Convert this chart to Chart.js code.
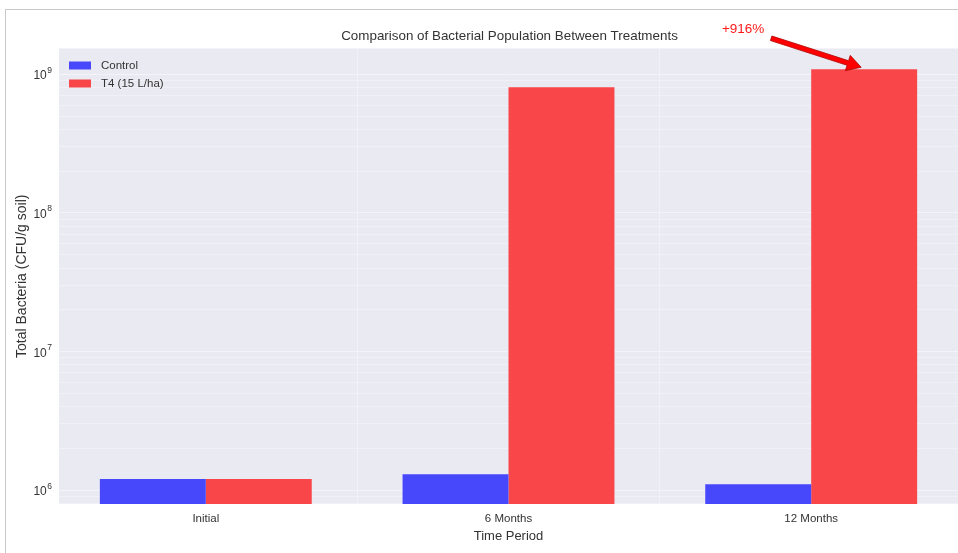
<!DOCTYPE html>
<html>
<head>
<meta charset="utf-8">
<script src="https://cdn.jsdelivr.net/npm/chart.js@4.4.1/dist/chart.umd.min.js"></script>
<style>
  html, body { margin: 0; padding: 0; background: #fff; overflow: hidden; }
  #wrap { position: relative; width: 958px; height: 553px; }
  #frame { position: absolute; left: 5px; top: 9px; width: 960px; height: 560px;
           border-top: 1px solid #c8c8c8; border-left: 1px solid #c8c8c8; pointer-events: none; }
  canvas { position: absolute; left: 0; top: 0; }
</style>
</head>
<body>
<div id="wrap">
  <canvas id="c" width="958" height="553"></canvas>
  <div id="frame"></div>
</div>
<script>
// ---- data ----
const categories = ['Initial', '6 Months', '12 Months'];
const controlValues = [1.2e6, 1.3e6, 1.1e6];
const t4Values = [1.2e6, 8.1e8, 1.09e9];
const seriesLabels = ['Control', 'T4 (15 L/ha)'];
const yTickExponents = [6, 7, 8, 9];
const annotationText = '+916%';
const titleText = 'Comparison of Bacterial Population Between Treatments';
const xAxisTitle = 'Time Period';
const yAxisTitle = 'Total Bacteria (CFU/g soil)';

const FONT = "'Liberation Sans', Arial, sans-serif";
const TEXT = '#333333';

const bgPlugin = {
  id: 'bg',
  beforeDraw(chart) {
    const {ctx, chartArea: a} = chart;
    ctx.save();
    ctx.fillStyle = '#EAEAF2';
    ctx.fillRect(a.left, a.top, a.right - a.left, a.bottom - a.top);
    ctx.restore();
  }
};

const textPlugin = {
  id: 'texts',
  afterDraw(chart) {
    const {ctx, chartArea: a} = chart;
    ctx.save();
    // title centered over plot area (full axes width)
    ctx.fillStyle = TEXT;
    ctx.font = '13.4px ' + FONT;
    ctx.textAlign = 'center';
    ctx.textBaseline = 'middle';
    ctx.fillText(titleText, 509.5, 36);
    // y tick labels with superscript exponents
    const ys = chart.scales.y;
    ctx.textBaseline = 'alphabetic';
    ctx.textAlign = 'left';
    yTickExponents.forEach(e => {
      const py = ys.getPixelForValue(Math.pow(10, e));
      ctx.font = '8.5px ' + FONT;
      const ew = ctx.measureText(String(e)).width;
      ctx.font = '12px ' + FONT;
      const bw = ctx.measureText('10').width;
      const right = a.left - 7;
      const x0 = right - ew - bw - 0.5;
      ctx.fillText('10', x0, py + 5);
      ctx.font = '8.5px ' + FONT;
      ctx.fillText(String(e), x0 + bw + 0.5, py - 1.5);
    });
    // legend inside
    ctx.font = '11.5px ' + FONT;
    ctx.textBaseline = 'middle';
    chart.data.datasets.forEach((ds, i) => {
      const y = a.top + 17 + i * 18;
      ctx.fillStyle = ds.backgroundColor;
      ctx.fillRect(a.left + 10, y - 4, 22, 8);
      ctx.fillStyle = TEXT;
      ctx.fillText(ds.label, a.left + 42, y);
    });
    ctx.restore();
  }
};

const annotationPlugin = {
  id: 'arrowNote',
  afterDraw(chart) {
    const {ctx} = chart;
    const meta = chart.getDatasetMeta(1);
    const bar = meta.data[2];
    const tipX = bar.x - 3, tipY = bar.y - 2;
    const startX = tipX - 90, startY = tipY - 29;
    ctx.save();
    ctx.fillStyle = '#FF1A1A';
    ctx.font = '13.5px ' + FONT;
    ctx.textAlign = 'center';
    ctx.textBaseline = 'middle';
    ctx.fillText(annotationText, startX - 28, startY - 9);
    const ang = Math.atan2(tipY - startY, tipX - startX);
    const headLen = 14, headW = 8, shaft = 2.4;
    const bx = tipX - headLen * Math.cos(ang), by = tipY - headLen * Math.sin(ang);
    const nx = -Math.sin(ang), ny = Math.cos(ang);
    ctx.fillStyle = '#FF0000';
    ctx.strokeStyle = '#B00000';
    ctx.lineWidth = 0.8;
    ctx.beginPath();
    ctx.moveTo(startX + nx * shaft, startY + ny * shaft);
    ctx.lineTo(bx + nx * shaft, by + ny * shaft);
    ctx.lineTo(bx + nx * headW, by + ny * headW);
    ctx.lineTo(tipX, tipY);
    ctx.lineTo(bx - nx * headW, by - ny * headW);
    ctx.lineTo(bx - nx * shaft, by - ny * shaft);
    ctx.lineTo(startX - nx * shaft, startY - ny * shaft);
    ctx.closePath();
    ctx.fill();
    ctx.stroke();
    ctx.restore();
  }
};

new Chart(document.getElementById('c'), {
  type: 'bar',
  data: {
    datasets: [
      {
        label: seriesLabels[0],
        data: controlValues.map((v, i) => ({x: i, y: v})),
        backgroundColor: '#4747FC',
        borderWidth: 0,
        categoryPercentage: 0.7,
        barPercentage: 1.0
      },
      {
        label: seriesLabels[1],
        data: t4Values.map((v, i) => ({x: i, y: v})),
        backgroundColor: '#F84649',
        borderWidth: 0,
        categoryPercentage: 0.7,
        barPercentage: 1.0
      }
    ]
  },
  options: {
    responsive: false,
    animation: false,
    events: [],
    layout: { padding: { left: 0, right: 0, top: 48.5, bottom: 0 } },
    plugins: {
      legend: { display: false },
      tooltip: { enabled: false },
      title: { display: false }
    },
    scales: {
      x: {
        type: 'linear',
        min: -0.485,
        max: 2.485,
        offset: false,
        afterBuildTicks(axis) { axis.ticks = categories.map((c, i) => ({value: i})); },
        afterFit(axis) { axis.height = 49; },
        grid: { color: 'rgba(255,255,255,0.35)', lineWidth: 1, drawTicks: false },
        border: { display: false },
        ticks: {
          autoSkip: false,
          maxRotation: 0,
          padding: 8,
          color: TEXT,
          font: { family: FONT, size: 11.5 },
          callback: v => categories[v] !== undefined ? categories[v] : ''
        },
        title: {
          display: true,
          text: xAxisTitle,
          color: TEXT,
          font: { family: FONT, size: 13 },
          padding: { top: 0, bottom: 9 }
        }
      },
      y: {
        type: 'logarithmic',
        min: 7.93e5,
        max: 1.54e9,
        afterBuildTicks(axis) {
          const t = [];
          for (let e = 5; e <= 9; e++) {
            for (let m = 1; m <= 9; m++) {
              const v = m * Math.pow(10, e);
              if (v >= axis.min && v <= axis.max) t.push({value: v, major: m === 1});
            }
          }
          axis.ticks = t;
        },
        afterFit(axis) { axis.width = 59; },
        grid: {
          color: ctx => (ctx.tick && ctx.tick.major) ? 'rgba(255,255,255,0.45)' : 'rgba(255,255,255,0.3)',
          lineWidth: 1,
          drawTicks: false
        },
        border: { display: false },
        ticks: {
          autoSkip: false,
          padding: 7,
          color: TEXT,
          font: { family: FONT, size: 12 },
          callback: () => ''
        },
        title: {
          display: true,
          text: yAxisTitle,
          color: TEXT,
          font: { family: FONT, size: 14 },
          padding: { top: 14, bottom: 0 }
        }
      }
    }
  },
  plugins: [bgPlugin, textPlugin, annotationPlugin]
});
</script>
</body>
</html>
